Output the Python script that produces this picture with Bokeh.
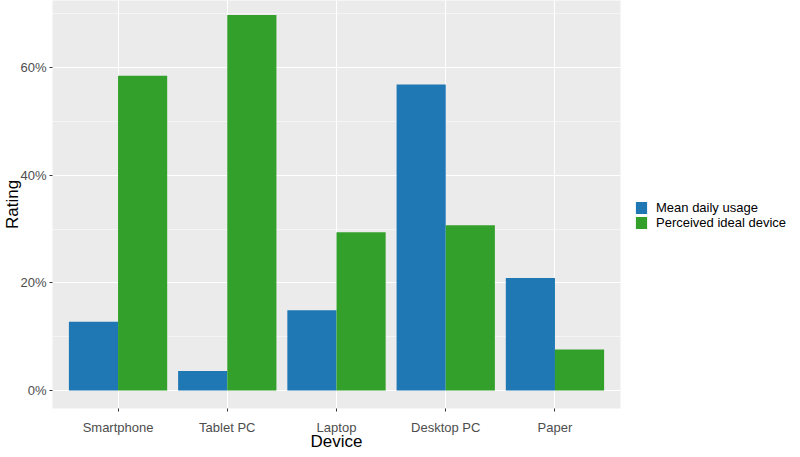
from bokeh.plotting import figure
from bokeh.models import (ColumnDataSource, FactorRange, Range1d, FixedTicker,
                          NumeralTickFormatter, Legend, LegendItem)
from bokeh.transform import dodge
from bokeh.embed import file_html
from bokeh.resources import INLINE

devices = ["Smartphone", "Tablet PC", "Laptop", "Desktop PC", "Paper"]
mean_daily_usage = [0.128, 0.036, 0.149, 0.569, 0.209]
perceived_ideal = [0.585, 0.698, 0.294, 0.307, 0.076]
series_names = ["Mean daily usage", "Perceived ideal device"]
y_ticks = [0.0, 0.2, 0.4, 0.6]
y_minor = [0.1, 0.3, 0.5, 0.7]

BLUE = "#1F78B4"
GREEN = "#33A02C"
FONT = "Liberation Sans"

src = ColumnDataSource(dict(device=devices, usage=mean_daily_usage, ideal=perceived_ideal))

p = figure(x_range=FactorRange(factors=devices, range_padding=0.1, range_padding_units="absolute"),
           y_range=Range1d(-0.0335, 0.725),
           width=784, height=441, frame_width=568, frame_height=408,
           output_backend="svg", toolbar_location=None,
           min_border_left=0, min_border_right=0, min_border_top=0, min_border_bottom=0)

r1 = p.vbar(x=dodge("device", -0.225, range=p.x_range), top="usage", width=0.45,
            source=src, fill_color=BLUE, line_color=None)
r2 = p.vbar(x=dodge("device", 0.225, range=p.x_range), top="ideal", width=0.45,
            source=src, fill_color=GREEN, line_color=None)

p.background_fill_color = "#EBEBEB"
p.border_fill_color = "white"
p.outline_line_color = None

p.yaxis.ticker = FixedTicker(ticks=y_ticks, minor_ticks=y_minor)
p.yaxis.formatter = NumeralTickFormatter(format="0%")

p.xgrid.grid_line_color = "white"
p.xgrid.grid_line_width = 1.1
p.ygrid.grid_line_color = "white"
p.ygrid.grid_line_width = 1.1
p.ygrid.minor_grid_line_color = "white"
p.ygrid.minor_grid_line_width = 0.5

for ax in (p.xaxis, p.yaxis):
    ax.axis_line_color = None
    ax.major_tick_line_color = "#333333"
    ax.major_tick_in = 0
    ax.major_tick_out = 3
    ax.minor_tick_line_color = None
    ax.major_label_text_font = FONT
    ax.major_label_text_font_size = "13px"
    ax.major_label_text_color = "#4D4D4D"
    ax.major_label_standoff = 2
    ax.axis_label_text_font = FONT
    ax.axis_label_text_font_size = "17px"
    ax.axis_label_text_font_style = "normal"
    ax.axis_label_text_color = "black"
    ax.axis_label_standoff = 1

p.xaxis.major_label_standoff = 8
p.xaxis.axis_label_standoff = -6
p.yaxis.axis_label_standoff = -5

p.xaxis.axis_label = "Device"
p.yaxis.axis_label = "Rating"

legend = Legend(items=[LegendItem(label=series_names[0], renderers=[r1]),
                       LegendItem(label=series_names[1], renderers=[r2])],
                location=(14, 178), orientation="vertical")
legend.label_text_font = FONT
legend.label_text_font_size = "13px"
legend.label_text_color = "black"
legend.glyph_width = 14
legend.glyph_height = 15
legend.label_height = 15
legend.label_standoff = 8
legend.spacing = 0
legend.padding = 3
legend.margin = 0
legend.border_line_color = None
legend.background_fill_color = "white"
p.add_layout(legend, "right")

open("out.html", "w").write(file_html(p, INLINE))
